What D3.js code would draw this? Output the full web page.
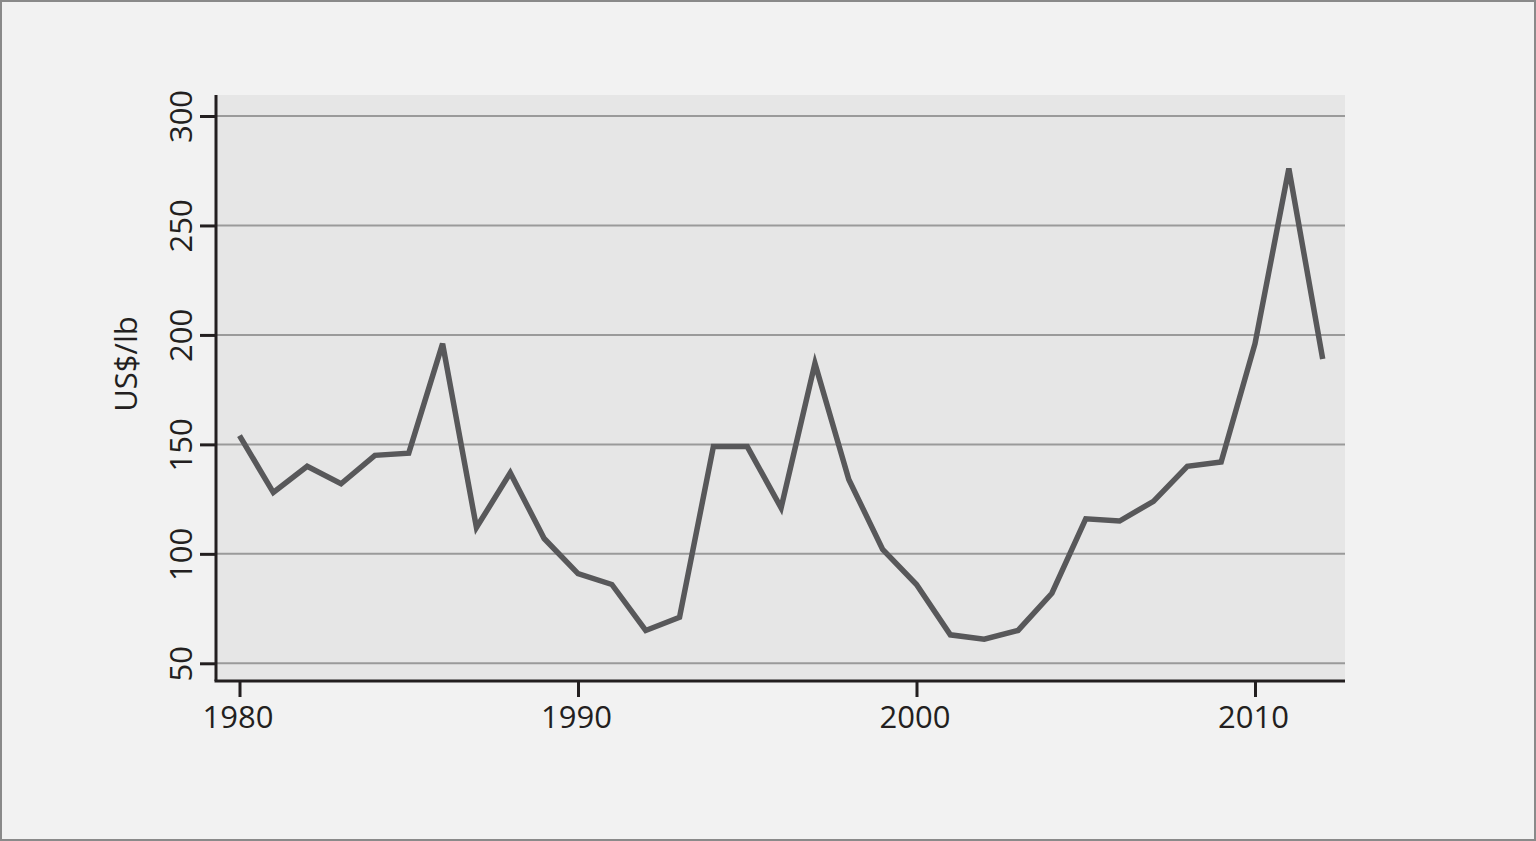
<!DOCTYPE html>
<html lang="en">
<head>
<meta charset="UTF-8">
<title>US$/lb 1980-2012</title>
<style>
    body {
        margin: 0;
        background: #f2f2f2;
        font-family: 'Open Sans', sans-serif;
    }
    .grid line {
        stroke: #9a9a9a;
        stroke-width: 2px;
    }
    .axis path, .axis line {
        stroke: #231f20;
        stroke-width: 3px;
    }
    .axis text {
        font-family: 'Open Sans', sans-serif;
        font-size: 31px;
        fill: #231f20;
    }
    .series {
        fill: none;
        stroke: #58585a;
        stroke-width: 5.5px;
        stroke-linejoin: miter;
    }
</style>
<script src="https://d3js.org/d3.v7.min.js"></script>
</head>
<body>
<svg id="chart" width="1536" height="841"></svg>
<script>
    // data
    const years = [1980, 1981, 1982, 1983, 1984, 1985, 1986, 1987, 1988, 1989,
                   1990, 1991, 1992, 1993, 1994, 1995, 1996, 1997, 1998, 1999,
                   2000, 2001, 2002, 2003, 2004, 2005, 2006, 2007, 2008, 2009,
                   2010, 2011, 2012];
    const prices = [154, 128, 140, 132, 145, 146, 196, 112, 137, 107,
                    91, 86, 65, 71, 149, 149, 121, 187, 134, 102,
                    86, 63, 61, 65, 82, 116, 115, 124, 140, 142,
                    196, 276, 189];
    const yTicks = [50, 100, 150, 200, 250, 300];
    const xTicks = [1980, 1990, 2000, 2010];
    const yLabel = "US$/lb";

    const svg = d3.select("#chart");
    const W = 1536, H = 841;
    const plotLeft = 216, plotRight = 1345, plotTop = 95, plotBottom = 681;

    // outer frame
    svg.append("rect")
        .attr("x", 1).attr("y", 1)
        .attr("width", W - 2).attr("height", H - 2)
        .attr("fill", "#f2f2f2")
        .attr("stroke", "#8a8a8a")
        .attr("stroke-width", 2);

    const x = d3.scaleLinear().domain([1980, 2010]).range([239.5, 1255]);
    const y = d3.scaleLinear().domain([50, 300]).range([663.3, 116]);

    // plot background
    svg.append("rect")
        .attr("x", plotLeft).attr("y", plotTop)
        .attr("width", plotRight - plotLeft).attr("height", plotBottom - plotTop)
        .attr("fill", "#e6e6e6");

    // gridlines
    svg.append("g")
        .attr("class", "grid")
        .selectAll("line")
        .data(yTicks)
        .join("line")
        .attr("x1", plotLeft)
        .attr("x2", plotRight)
        .attr("y1", d => y(d))
        .attr("y2", d => y(d));

    // the line
    const line = d3.line()
        .x((d, i) => x(years[i]))
        .y(d => y(d));

    svg.append("path")
        .datum(prices)
        .attr("class", "series")
        .attr("d", line);

    // y axis
    const yAxis = svg.append("g")
        .attr("class", "axis")
        .attr("transform", `translate(${plotLeft},0)`)
        .call(d3.axisLeft(y).tickValues(yTicks).tickSize(16).tickSizeOuter(0));
    yAxis.select(".domain").attr("d", `M0,${plotTop}V${plotBottom}`);
    yAxis.selectAll("text")
        .attr("transform", "rotate(-90)")
        .attr("x", 0)
        .attr("y", -24)
        .attr("dy", 0)
        .attr("text-anchor", "middle");

    // x axis
    const xAxis = svg.append("g")
        .attr("class", "axis")
        .attr("transform", `translate(0,${plotBottom})`)
        .call(d3.axisBottom(x).tickValues(xTicks).tickFormat(d3.format("d")).tickSize(16).tickSizeOuter(0));
    xAxis.select(".domain").attr("d", `M${plotLeft - 1.5},0H${plotRight}`);
    xAxis.selectAll("text")
        .attr("x", -2)
        .attr("y", 47)
        .attr("dy", 0);

    // axis title
    svg.append("text")
        .attr("transform", "translate(137,364) rotate(-90)")
        .attr("text-anchor", "middle")
        .style("font-size", "31px")
        .style("fill", "#231f20")
        .text(yLabel);
</script>
</body>
</html>
